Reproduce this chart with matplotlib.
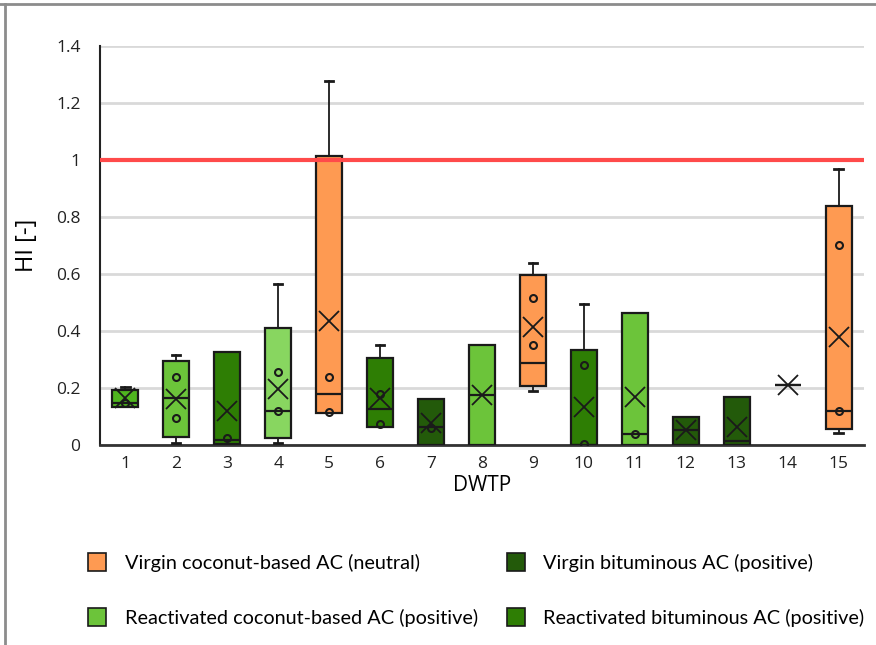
import matplotlib
matplotlib.use("Agg")
import matplotlib.pyplot as plt
from matplotlib.patches import Patch
from matplotlib.lines import Line2D

# ---------------- data ----------------
dwtp = list(range(1, 16))
q1 = [0.134, 0.027, 0.003, 0.026, 0.111, 0.062, 0.0, 0.0, 0.206, 0.0, 0.0, 0.0, 0.0, 0.21, 0.055]
med = [0.149, 0.166, 0.018, 0.120, 0.178, 0.125, 0.062, 0.175, 0.288, 0.0, 0.038, 0.052, 0.015, 0.21, 0.119]
q3 = [0.193, 0.295, 0.327, 0.412, 1.015, 0.306, 0.163, 0.350, 0.597, 0.335, 0.463, 0.099, 0.167, 0.21, 0.837]
whislo = [0.134, 0.006, 0.0, 0.008, 0.111, 0.062, 0.0, 0.0, 0.190, 0.0, 0.0, 0.0, 0.0, 0.21, 0.041]
whishi = [0.204, 0.317, 0.327, 0.566, 1.277, 0.350, 0.163, 0.350, 0.639, 0.496, 0.463, 0.099, 0.167, 0.21, 0.968]
means = [0.165, 0.163, 0.120, 0.198, 0.435, 0.166, 0.076, 0.175, 0.414, 0.132, 0.169, 0.052, 0.064, 0.21, 0.379]
inner_points = [[0.147], [0.237, 0.096], [0.025], [0.255, 0.120], [0.237, 0.115], [0.178, 0.073],
                [0.058], [], [0.517, 0.350], [0.280, 0.005], [0.038], [], [], [], [0.703, 0.119]]
box_colors = ["#4fb51f", "#6cc43a", "#2e7e04", "#88d660", "#fe9a52", "#2e7e04", "#235a0a",
              "#6cc43a", "#fe9a52", "#2e7e04", "#6cc43a", "#235a0a", "#235a0a", "#ffffff", "#fe9a52"]
threshold = 1.0
yticks = [0, 0.2, 0.4, 0.6, 0.8, 1.0, 1.2, 1.4]
ytick_labels = ["0", "0.2", "0.4", "0.6", "0.8", "1", "1.2", "1.4"]
legend_labels = ["Virgin coconut-based AC (neutral)", "Reactivated coconut-based AC (positive)",
                 "Virgin bituminous AC (positive)", "Reactivated bituminous AC (positive)"]
legend_colors = ["#fe9a52", "#6cc43a", "#235a0a", "#2e7e04"]

# ---------------- figure ----------------
fig = plt.figure(figsize=(8.76, 6.45), dpi=100)
ax = fig.add_axes([100/876, 1-445/645, 764/876, 399/645])

stats = []
for i in range(len(dwtp)):
    stats.append(dict(med=med[i], q1=q1[i], q3=q3[i], whislo=whislo[i], whishi=whishi[i],
                      mean=means[i], fliers=inner_points[i], label=str(dwtp[i])))

edge = "#1a1a1a"
bp = ax.bxp(stats, positions=dwtp, widths=0.51, capwidths=0.16, patch_artist=True,
            showmeans=True, showfliers=True,
            boxprops=dict(edgecolor=edge, linewidth=1.6),
            medianprops=dict(color=edge, linewidth=1.6),
            whiskerprops=dict(color=edge, linewidth=1.3),
            capprops=dict(color=edge, linewidth=2.0),
            meanprops=dict(marker="x", markeredgecolor=edge, markersize=14, markeredgewidth=1.3),
            flierprops=dict(marker="o", markerfacecolor="none", markeredgecolor=edge,
                            markersize=5, markeredgewidth=1.5),
            zorder=3)
for patch, c in zip(bp["boxes"], box_colors):
    patch.set_facecolor(c)
# hide caps that coincide with a box edge (no visible whisker)
for i in range(len(dwtp)):
    if whislo[i] == q1[i]:
        bp["caps"][2*i].set_visible(False)
    if whishi[i] == q3[i]:
        bp["caps"][2*i+1].set_visible(False)

ax.axhline(threshold, color="#ff4a4a", linewidth=3, zorder=4)

ax.set_xlim(0.5, 15.5)
ax.set_ylim(0, 1.4)
ax.set_yticks(yticks)
ax.set_yticklabels(ytick_labels)
ax.set_xticks(dwtp)
ax.set_xticklabels([str(d) for d in dwtp])
ax.yaxis.grid(True, color="#d9d9d9", linewidth=2, zorder=0)
ax.set_axisbelow(True)
ax.tick_params(axis="both", length=0, labelsize=12.5, colors="#222222")
for lab in ax.get_xticklabels() + ax.get_yticklabels():
    lab.set_family("Open Sans")
ax.tick_params(axis="y", pad=14)
ax.tick_params(axis="x", pad=8)

for s in ["top", "right"]:
    ax.spines[s].set_visible(False)
ax.spines["left"].set_color("#222222")
ax.spines["left"].set_linewidth(1.5)
ax.spines["bottom"].set_color("#333333")
ax.spines["bottom"].set_linewidth(2)

ax.set_ylabel("HI [-]", fontsize=17, family="Open Sans", labelpad=12)
ax.set_xlabel("DWTP", fontsize=15, family="Open Sans", labelpad=2)

handles = [Patch(facecolor=c, edgecolor="#1a1a1a", linewidth=1.2) for c in legend_colors]
fig.legend(handles, legend_labels, ncol=2, loc="upper left", bbox_to_anchor=(88/876, 1-553/645),
           frameon=False, prop=dict(family="Lato", size=14.3), handlelength=0.9, handleheight=1.0,
           labelspacing=1.85, columnspacing=1.45, handletextpad=0.95, borderaxespad=0, borderpad=0)

# figure border (top and left)
fig.add_artist(Line2D([0, 1], [1-4/645, 1-4/645], transform=fig.transFigure, color="#8c8c8c", linewidth=2))
fig.add_artist(Line2D([5/876, 5/876], [0, 1-4/645], transform=fig.transFigure, color="#8c8c8c", linewidth=2))

fig.savefig("out.png", dpi=100)
